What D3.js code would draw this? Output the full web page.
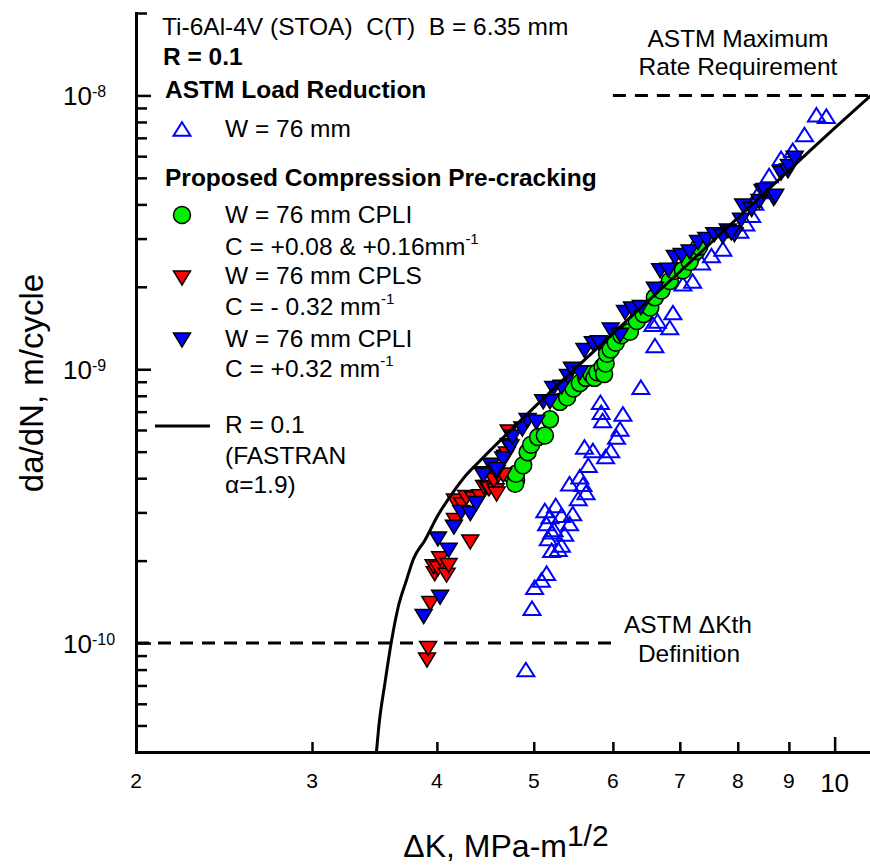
<!DOCTYPE html>
<html>
<head>
<meta charset="utf-8">
<script src="https://cdn.jsdelivr.net/npm/d3@7"></script>
<style>
  body { margin: 0; background: #fff; }
  svg { display: block; font-family: "Liberation Sans", Arial, sans-serif; }
  text { white-space: pre; }
</style>
</head>
<body>
<script>
// ---- data (deltaK in MPa-m^1/2, da/dN in m/cycle) ----
const astmLR = [
  [4.91, 8.0e-11], [4.98, 1.34e-10], [5.01, 1.6e-10], [5.09, 1.7e-10], [5.15, 1.8e-10],
  [5.21, 2.18e-10], [5.33, 2.28e-10], [5.29, 2.2e-10], [5.17, 2.41e-10], [5.21, 2.55e-10],
  [5.24, 2.6e-10], [5.37, 2.5e-10], [5.15, 2.73e-10], [5.19, 2.9e-10], [5.13, 3.05e-10],
  [5.26, 3.18e-10], [5.33, 2.93e-10], [5.43, 2.73e-10], [5.47, 2.97e-10], [5.54, 3.37e-10],
  [5.64, 3.55e-10], [5.43, 3.82e-10], [5.56, 4.05e-10], [5.60, 3.8e-10], [5.67, 4.46e-10],
  [5.62, 5.2e-10], [5.73, 5.05e-10], [5.90, 4.8e-10], [5.97, 5.05e-10], [6.05, 5.65e-10],
  [6.10, 6.05e-10], [6.14, 6.87e-10], [5.86, 6.5e-10], [5.84, 6.96e-10], [5.83, 7.57e-10],
  [6.40, 8.6e-10], [6.61, 1.22e-9], [6.58, 1.46e-9], [6.65, 1.5e-9], [6.84, 1.42e-9],
  [6.89, 1.61e-9], [7.05, 2.05e-9], [7.21, 2.1e-9], [7.36, 2.45e-9], [7.53, 2.6e-9],
  [7.73, 2.75e-9], [8.04, 3.2e-9], [8.15, 3.4e-9], [8.26, 3.65e-9], [8.32, 4.05e-9],
  [8.41, 4.46e-9], [8.60, 5.1e-9], [8.84, 5.9e-9], [9.08, 6.3e-9], [9.33, 7.2e-9],
  [9.59, 8.5e-9], [9.81, 8.4e-9]
];

const cpliLow = [
  [4.77, 4.04e-10], [4.80, 3.93e-10], [4.79, 3.82e-10], [4.80, 4.15e-10], [4.88, 4.46e-10],
  [4.93, 4.98e-10], [4.97, 5.3e-10], [5.05, 5.65e-10], [5.13, 5.73e-10], [5.19, 6.56e-10],
  [5.31, 7.6e-10], [5.40, 7.9e-10], [5.48, 8.5e-10], [5.56, 8.9e-10], [5.64, 9.3e-10],
  [5.71, 9.6e-10], [5.75, 9.3e-10], [5.79, 9.75e-10], [5.86, 1.02e-9], [5.88, 9.6e-10],
  [5.90, 1.05e-9], [5.92, 1.14e-9], [5.97, 1.18e-9], [6.04, 1.25e-9], [6.12, 1.33e-9],
  [6.24, 1.37e-9], [6.34, 1.5e-9], [6.44, 1.59e-9], [6.54, 1.68e-9], [6.61, 1.83e-9],
  [6.71, 1.94e-9], [6.84, 2.1e-9], [6.92, 2.29e-9], [7.05, 2.3e-9], [7.16, 2.47e-9],
  [7.27, 2.7e-9], [7.32, 2.8e-9]
];

const cpls = [
  [3.91, 8.67e-11], [3.92, 9.56e-11], [3.94, 1.395e-10], [3.98, 1.79e-10], [3.97, 1.9e-10],
  [4.01, 1.87e-10], [4.03, 2.03e-10], [4.09, 1.77e-10], [4.11, 1.92e-10], [4.32, 2.34e-10],
  [4.17, 2.8e-10], [4.17, 3.3e-10], [4.24, 3.2e-10], [4.28, 3.4e-10], [4.35, 3.36e-10],
  [4.42, 3.42e-10], [4.46, 3.7e-10], [4.49, 3.7e-10], [4.51, 3.66e-10], [4.58, 3.6e-10],
  [4.59, 3.5e-10], [4.56, 3.93e-10], [4.61, 4.1e-10], [4.66, 4.1e-10], [4.68, 4.77e-10],
  [4.70, 4.9e-10], [4.72, 5.9e-10]
];

const cpliHigh = [
  [3.88, 1.25e-10], [4.03, 1.47e-10], [4.01, 2.4e-10], [4.11, 2.18e-10], [4.16, 2.65e-10],
  [4.23, 3.0e-10], [4.32, 2.97e-10], [4.38, 3.23e-10], [4.46, 4.15e-10], [4.53, 4.46e-10],
  [4.59, 4.2e-10], [4.66, 4.7e-10], [4.72, 5.27e-10], [4.45, 4.1e-10], [4.59, 4.3e-10],
  [4.74, 5.2e-10], [4.76, 5.65e-10], [4.87, 6.05e-10], [4.93, 6.5e-10], [5.03, 6.4e-10],
  [5.11, 7.6e-10], [5.19, 7.6e-10], [5.23, 8.5e-10], [5.33, 8.6e-10], [5.41, 9.4e-10],
  [5.46, 1.0e-9], [5.56, 9.7e-10], [5.62, 1.17e-9], [5.73, 1.24e-9], [5.81, 1.25e-9],
  [5.97, 1.39e-9], [6.10, 1.33e-9], [6.17, 1.61e-9], [6.27, 1.66e-9], [6.40, 1.68e-9],
  [6.61, 1.96e-9], [6.69, 2.29e-9], [6.82, 2.3e-9], [6.92, 2.56e-9], [7.03, 2.6e-9],
  [7.16, 2.68e-9], [7.30, 2.9e-9], [7.44, 2.98e-9], [7.58, 3.1e-9], [7.73, 3.05e-9],
  [7.82, 3.2e-9], [7.94, 3.1e-9], [7.88, 3.15e-9], [8.06, 3.5e-9], [8.10, 3.95e-9],
  [8.26, 3.83e-9], [8.41, 4.1e-9], [8.47, 4.46e-9], [8.51, 4.5e-9], [8.69, 4.2e-9],
  [8.72, 4.28e-9], [8.84, 5.2e-9], [8.98, 5.3e-9], [9.00, 5.5e-9], [9.12, 5.9e-9]
];

// FASTRAN R = 0.1 curve
const fastK    = [3.48, 3.50, 3.55, 3.60, 3.66, 3.73, 3.79, 3.89, 4.01, 4.14, 4.29, 4.42, 5.02, 6.0, 7.0, 8.0, 10.0, 11.0];
const fastRate = [4.0e-11, 5.0e-11, 7.2e-11, 1.0e-10, 1.36e-10, 1.7e-10, 2.03e-10, 2.37e-10, 2.93e-10, 3.5e-10,
                  4.15e-10, 4.64e-10, 7.33e-10, 1.35e-9, 2.27e-9, 3.57e-9, 7.6e-9, 1.04e-8];

// ASTM limits
const kthRate = 1e-10, kthRange = [2, 6];
const maxRate = 1e-8,  maxRange = [6, 11];

// ticks
const xMinorTicks = [3, 4, 5, 6, 7, 8, 9];
const xMajorTicks = [10];
const xTickLabels = ["2", "3", "4", "5", "6", "7", "8", "9"];
const yMajorTicks = [1e-10, 1e-9, 1e-8];
const yMinorTicks = [4e-11, 5e-11, 6e-11, 7e-11, 8e-11, 9e-11,
  2e-10, 3e-10, 4e-10, 5e-10, 6e-10, 7e-10, 8e-10, 9e-10,
  2e-9, 3e-9, 4e-9, 5e-9, 6e-9, 7e-9, 8e-9, 9e-9, 2e-8];
const yTickExp = ["-10", "-9", "-8"];

const width = 870, height = 865;

const x = d3.scaleLog().domain([2, 11]).range([136, 876]);
const y = d3.scaleLog().domain([4e-11, 2e-8]).range([752, 13]);

const svg = d3.select("body").append("svg")
  .attr("width", width)
  .attr("height", height);

// marker shapes
function tri(w, h, down) {
  const p = d3.path();
  if (down) {
    p.moveTo(0, h / 2); p.lineTo(w / 2, -h / 2); p.lineTo(-w / 2, -h / 2);
  } else {
    p.moveTo(0, -h / 2); p.lineTo(w / 2, h / 2); p.lineTo(-w / 2, h / 2);
  }
  p.closePath();
  return p.toString();
}
const upTri = tri(17, 13.5, false);
const downTri = tri(17, 14, true);

// ASTM dashed lines
svg.append("line")
  .attr("x1", x(kthRange[0])).attr("x2", x(kthRange[1]))
  .attr("y1", y(kthRate)).attr("y2", y(kthRate))
  .attr("stroke", "#000").attr("stroke-width", 3).attr("stroke-dasharray", "13,9");
svg.append("line")
  .attr("x1", x(maxRange[0])).attr("x2", x(maxRange[1]))
  .attr("y1", y(maxRate)).attr("y2", y(maxRate))
  .attr("stroke", "#000").attr("stroke-width", 3).attr("stroke-dasharray", "13,9");

// data points
svg.append("g").selectAll("path")
  .data(astmLR).enter().append("path")
  .attr("d", upTri)
  .attr("transform", d => "translate(" + x(d[0]) + "," + y(d[1]) + ")")
  .attr("fill", "none").attr("stroke", "#0000ff").attr("stroke-width", 2);

svg.append("g").selectAll("circle")
  .data(cpliLow).enter().append("circle")
  .attr("cx", d => x(d[0])).attr("cy", d => y(d[1])).attr("r", 8.5)
  .attr("fill", "#00ee00").attr("stroke", "#000").attr("stroke-width", 1.5);

svg.append("g").selectAll("path")
  .data(cpls).enter().append("path")
  .attr("d", downTri)
  .attr("transform", d => "translate(" + x(d[0]) + "," + y(d[1]) + ")")
  .attr("fill", "#ff0000").attr("stroke", "#000").attr("stroke-width", 1.5);

svg.append("g").selectAll("path")
  .data(cpliHigh).enter().append("path")
  .attr("d", downTri)
  .attr("transform", d => "translate(" + x(d[0]) + "," + y(d[1]) + ")")
  .attr("fill", "#0000ff").attr("stroke", "#000").attr("stroke-width", 1.5);

// FASTRAN curve
const line = d3.line()
  .x((d, i) => x(fastK[i]))
  .y(d => y(d))
  .curve(d3.curveMonotoneX);
svg.append("path")
  .datum(fastRate)
  .attr("d", line)
  .attr("fill", "none").attr("stroke", "#000").attr("stroke-width", 3);

// axes
const xAxis = svg.append("g").attr("transform", "translate(0," + y.range()[0] + ")");
xAxis.call(d3.axisBottom(x).tickValues(xMinorTicks).tickSize(-10).tickSizeOuter(0).tickFormat(""));
xAxis.append("g")
  .call(d3.axisBottom(x).tickValues(xMajorTicks).tickSize(-15).tickSizeOuter(0).tickFormat(""))
  .call(g => g.select(".domain").remove());

const yAxis = svg.append("g").attr("transform", "translate(" + x.range()[0] + ",0)");
yAxis.call(d3.axisLeft(y).tickValues(yMinorTicks).tickSize(-11).tickSizeOuter(0).tickFormat(""));
yAxis.append("g")
  .call(d3.axisLeft(y).tickValues(yMajorTicks).tickSize(-15).tickSizeOuter(0).tickFormat(""))
  .call(g => g.select(".domain").remove());

svg.selectAll(".domain").attr("stroke", "#000").attr("stroke-width", 3).attr("stroke-linecap", "square");
svg.selectAll(".tick line").attr("stroke", "#000").attr("stroke-width", 2.5);

// x tick labels
svg.append("g").selectAll("text")
  .data(xTickLabels).enter().append("text")
  .attr("x", d => x(+d)).attr("y", 788)
  .attr("text-anchor", "middle").attr("font-size", 21)
  .text(d => d);
svg.append("text")
  .attr("x", x(10)).attr("y", 792)
  .attr("text-anchor", "middle").attr("font-size", 26)
  .text("10");

// y tick labels
const yl = svg.append("g").selectAll("text")
  .data(yMajorTicks).enter().append("text")
  .attr("x", 63).attr("y", d => y(d) + 10)
  .attr("font-size", 26);
yl.append("tspan").text("10");
yl.append("tspan").attr("font-size", 16).attr("dy", -8).text((d, i) => yTickExp[i]);

// axis titles
const xt = svg.append("text")
  .attr("x", 506).attr("y", 857)
  .attr("text-anchor", "middle").attr("font-size", 32);
xt.append("tspan").text("\u0394K, MPa-m");
xt.append("tspan").attr("font-size", 30).attr("dy", -11).text("1/2");

svg.append("text")
  .attr("transform", "translate(43,383) rotate(-90)")
  .attr("text-anchor", "middle").attr("font-size", 33)
  .text("da/dN, m/cycle");

// annotations
const note = svg.append("g").attr("font-size", 24.5).attr("text-anchor", "middle");
note.append("text").attr("x", 738).attr("y", 47).text("ASTM Maximum");
note.append("text").attr("x", 738).attr("y", 75).text("Rate Requirement");
note.append("text").attr("x", 688).attr("y", 633).text("ASTM \u0394Kth");
note.append("text").attr("x", 689).attr("y", 662).text("Definition");

// legend
const lg = svg.append("g").attr("font-size", 24.5);
lg.append("text").attr("x", 162).attr("y", 35)
  .text("Ti-6Al-4V (STOA)  C(T)  B = 6.35 mm");
lg.append("text").attr("x", 163).attr("y", 65).attr("font-weight", "bold").text("R = 0.1");
lg.append("text").attr("x", 165).attr("y", 98).attr("font-weight", "bold").text("ASTM Load Reduction");
lg.append("text").attr("x", 165).attr("y", 186).attr("font-weight", "bold").text("Proposed Compression Pre-cracking");

const mx = 182, tx = 225;
lg.append("path").attr("d", upTri).attr("transform", "translate(" + mx + ",129)")
  .attr("fill", "none").attr("stroke", "#0000ff").attr("stroke-width", 2);
lg.append("text").attr("x", tx).attr("y", 137).text("W = 76 mm");

lg.append("circle").attr("cx", mx).attr("cy", 215).attr("r", 8.5)
  .attr("fill", "#00ee00").attr("stroke", "#000").attr("stroke-width", 1.5);
lg.append("text").attr("x", tx).attr("y", 223).text("W = 76 mm CPLI");
const c1 = lg.append("text").attr("x", tx).attr("y", 255);
c1.append("tspan").text("C = +0.08 & +0.16mm");
c1.append("tspan").attr("font-size", 15).attr("dy", -11).text("-1");

lg.append("path").attr("d", downTri).attr("transform", "translate(" + mx + ",278)")
  .attr("fill", "#ff0000").attr("stroke", "#000").attr("stroke-width", 1.5);
lg.append("text").attr("x", tx).attr("y", 284).text("W = 76 mm CPLS");
const c2 = lg.append("text").attr("x", tx).attr("y", 315);
c2.append("tspan").text("C = - 0.32 mm");
c2.append("tspan").attr("font-size", 15).attr("dy", -11).text("-1");

lg.append("path").attr("d", downTri).attr("transform", "translate(" + mx + ",340)")
  .attr("fill", "#0000ff").attr("stroke", "#000").attr("stroke-width", 1.5);
lg.append("text").attr("x", tx).attr("y", 347).text("W = 76 mm CPLI");
const c3 = lg.append("text").attr("x", tx).attr("y", 377);
c3.append("tspan").text("C = +0.32 mm");
c3.append("tspan").attr("font-size", 15).attr("dy", -11).text("-1");

lg.append("line").attr("x1", 155).attr("x2", 210).attr("y1", 426).attr("y2", 426)
  .attr("stroke", "#000").attr("stroke-width", 3);
lg.append("text").attr("x", tx).attr("y", 433).text("R = 0.1");
lg.append("text").attr("x", tx).attr("y", 464).text("(FASTRAN");
lg.append("text").attr("x", tx).attr("y", 493).text("\u03b1=1.9)");
</script>
</body>
</html>
